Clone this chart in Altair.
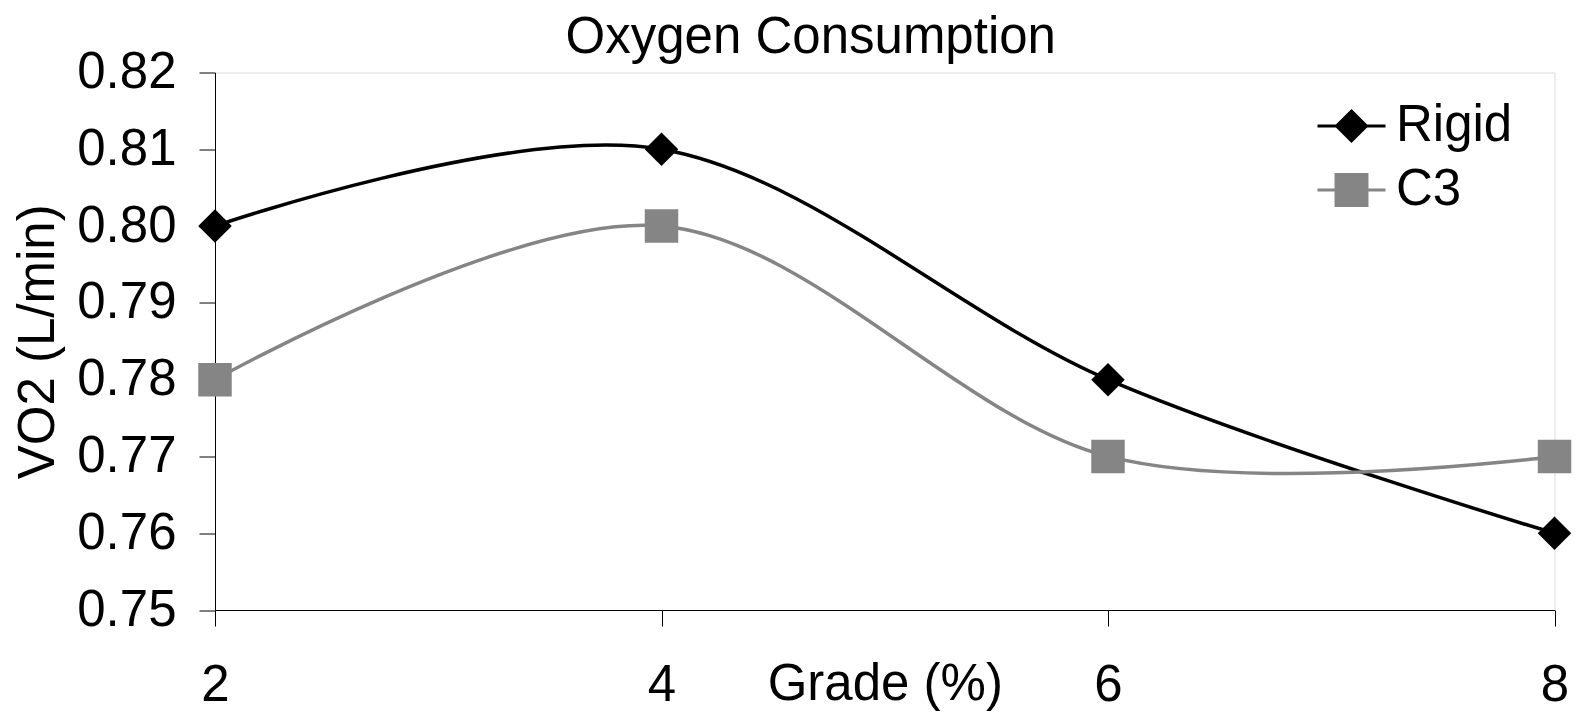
import altair as alt
import pandas as pd

grade = [2, 4, 6, 8]
rigid = [0.80, 0.81, 0.78, 0.76]
c3 = [0.78, 0.80, 0.77, 0.77]
series_names = ["Rigid", "C3"]
series_colors = ["#000000", "#858585"]
y_ticks = [0.75, 0.76, 0.77, 0.78, 0.79, 0.80, 0.81, 0.82]
x_ticks = [2, 4, 6, 8]

FONT = "Liberation Sans"
FS = 51

rows = []
for g, v in zip(grade, rigid):
    rows.append({"grade": g, "vo2": v, "series": "Rigid"})
for g, v in zip(grade, c3):
    rows.append({"grade": g, "vo2": v, "series": "C3"})
df = pd.DataFrame(rows)

x_enc = alt.X("grade:Q",
              scale=alt.Scale(domain=[2, 8], nice=False, zero=False),
              axis=alt.Axis(values=x_ticks, title="Grade (%)", grid=False,
                            tickSize=16, tickColor="#000000", domainColor="#000000",
                            labelFontSize=FS, labelFont=FONT, labelColor="#000000",
                            labelBaseline="alphabetic", labelPadding=74, labelFlush=False,
                            titleFontSize=FS, titleFont=FONT, titleFontWeight="normal",
                            titleColor="#000000", titleBaseline="alphabetic", titleY=89))
y_enc = alt.Y("vo2:Q",
              scale=alt.Scale(domain=[0.75, 0.82], nice=False, zero=False),
              axis=alt.Axis(values=y_ticks, format=".2f", title="VO2 (L/min)", grid=False,
                            tickSize=16, tickColor="#000000", domainColor="#000000",
                            labelFontSize=FS, labelFont=FONT, labelColor="#000000",
                            labelPadding=23, labelFlush=False,
                            titleFontSize=FS, titleFont=FONT, titleFontWeight="normal",
                            titleColor="#000000", titleBaseline="alphabetic",
                            titleAngle=270, titleX=-162))

shapes_chart = ["diamond", "square"]
sizes_chart = [1120, 1120]

layers = []
for name, col, shp, sz in zip(series_names, series_colors, shapes_chart, sizes_chart):
    sub = df[df.series == name]
    line = alt.Chart(sub).mark_line(interpolate="cardinal", strokeWidth=3.5, color=col).encode(
        x=x_enc, y=y_enc)
    pts = alt.Chart(sub).mark_point(filled=True, shape=shp, size=sz, color=col, opacity=1).encode(
        x=x_enc, y=y_enc)
    layers += [line, pts]

legend_paths = ["M-2,0H2M0,-0.88L0.88,0L0,0.88L-0.88,0Z",
                "M-2,0H2M-0.91,-0.91H0.91V0.91H-0.91Z"]

leg = alt.Legend(orient="none", legendX=1111, legendY=28, title=None, padding=0,
                 symbolSize=1156, symbolStrokeWidth=3, labelFontSize=FS, labelFont=FONT,
                 labelColor="#000000", labelOffset=19, rowPadding=12)

# legend-only layer: no rows drawn (filtered out), entries come from the explicit scale domains
legend_layer = alt.Chart(df).transform_filter("datum.grade > 100").mark_point(
    filled=True, opacity=1).encode(
    x=x_enc, y=y_enc,
    fill=alt.Fill("series:N", scale=alt.Scale(domain=series_names, range=series_colors), legend=leg),
    stroke=alt.Stroke("series:N", scale=alt.Scale(domain=series_names, range=series_colors), legend=leg),
    shape=alt.Shape("series:N", scale=alt.Scale(domain=series_names, range=legend_paths), legend=leg),
)

chart = alt.layer(*layers, legend_layer).properties(
    width=1339.5, height=537.5,
    title=alt.Title("Oxygen Consumption", fontSize=FS, font=FONT, fontWeight="normal",
                    color="#000000", anchor="middle", dx=-74, baseline="alphabetic", offset=-57),
    autosize="none",
    padding={"left": 207, "top": 64.5, "right": 22, "bottom": 101},
).configure_view(stroke="#000000", strokeWidth=1).configure(background="white")

chart.save("out.html", embed_options={"renderer": "svg", "actions": False})
